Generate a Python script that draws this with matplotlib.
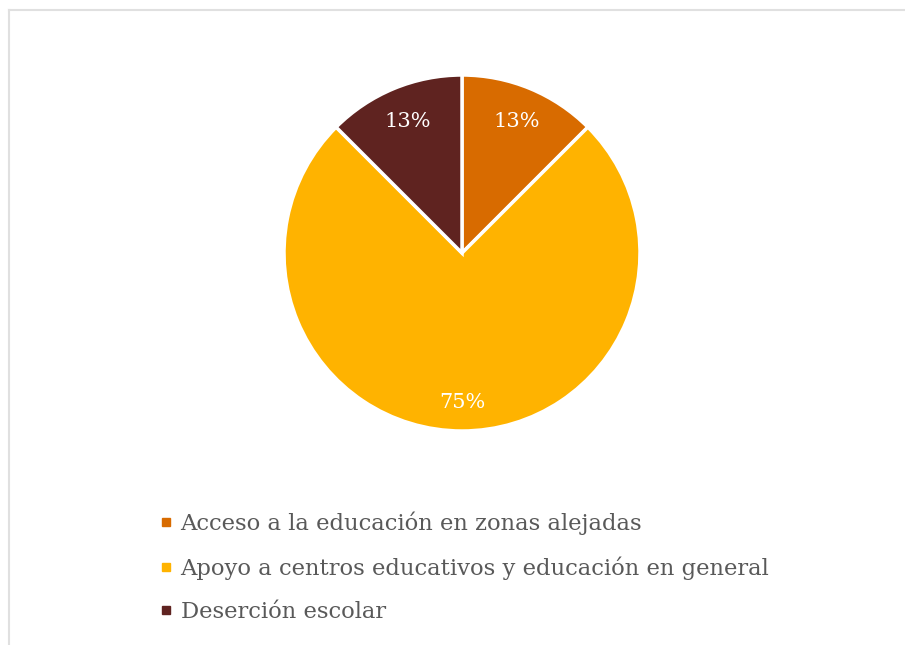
import matplotlib
matplotlib.use("Agg")
import matplotlib.pyplot as plt
from matplotlib.lines import Line2D
import numpy as np

categories = ["Acceso a la educación en zonas alejadas",
              "Apoyo a centros educativos y educación en general",
              "Deserción escolar"]
values = [1, 6, 1]
labels = ["13%", "75%", "13%"]
colors = ["#D86B00", "#FFB300", "#5F2320"]

plt.rcParams['font.family'] = ['DejaVu Serif']

W, H = 905, 645
fig = plt.figure(figsize=(W / 100, H / 100), dpi=100)
fig.patch.set_facecolor("white")

cx, cy, r = 462, 253, 178
ax = fig.add_axes([(cx - r) / W, (H - cy - r) / H, 2 * r / W, 2 * r / H])
wedges, _ = ax.pie(values, colors=colors, startangle=90, counterclock=False,
                   wedgeprops=dict(edgecolor="white", linewidth=2.5))
theta = 90.0
total = sum(values)
for w, lab, v in zip(wedges, labels, values):
    ang = theta - 360 * v / total / 2
    theta -= 360 * v / total
    d = 0.80 if v / total < 0.5 else 0.84
    x = d * np.cos(np.radians(ang))
    y = d * np.sin(np.radians(ang))
    ax.text(x, y, lab, ha="center", va="center", color="white", fontsize=15)
ax.set_xlim(-1, 1)
ax.set_ylim(-1, 1)
ax.set_aspect("equal")
ax.axis("off")

# legend
handles = [Line2D([0], [0], marker="s", linestyle="none", markersize=6,
                  markerfacecolor=c, markeredgecolor=c) for c in colors]
leg = fig.legend(handles, categories, loc="upper left",
                 bbox_to_anchor=(150 / W, 1 - 502 / H), frameon=False,
                 fontsize=16.3, labelcolor="#595959", handlelength=0.6,
                 handletextpad=0.35, labelspacing=0.95, borderaxespad=0)

# frame border (top and left visible)
fig.add_artist(Line2D([9 / W, 1], [1 - 10 / H, 1 - 10 / H], color="#E0E0E0", linewidth=1.5))
fig.add_artist(Line2D([9 / W, 9 / W], [0, 1 - 10 / H], color="#E0E0E0", linewidth=1.5))

fig.savefig("out.png", dpi=100, facecolor="white")
